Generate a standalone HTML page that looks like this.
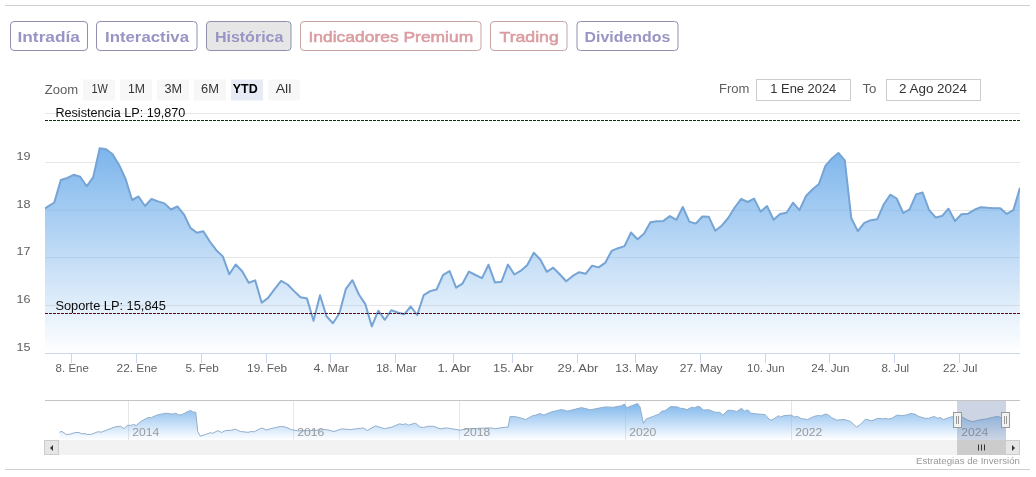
<!DOCTYPE html>
<html><head><meta charset="utf-8"><title>Histórica</title>
<style>
html,body{margin:0;padding:0;background:#fff;}
body{width:1036px;height:477px;overflow:hidden;font-family:"Liberation Sans",sans-serif;}
svg{display:block;font-family:"Liberation Sans",sans-serif;will-change:transform;}
</style></head><body>
<svg width="1036" height="477" viewBox="0 0 1036 477">
<defs>
<linearGradient id="g1" gradientUnits="userSpaceOnUse" x1="0" y1="148" x2="0" y2="353"><stop offset="0" stop-color="#7cb5ec" stop-opacity="1"/><stop offset="1" stop-color="#7cb5ec" stop-opacity="0"/></linearGradient>
<linearGradient id="g2" gradientUnits="userSpaceOnUse" x1="0" y1="403" x2="0" y2="440"><stop offset="0" stop-color="#7cb5ec" stop-opacity="1"/><stop offset="1" stop-color="#7cb5ec" stop-opacity="0"/></linearGradient>
<clipPath id="cp"><rect x="45" y="100" width="975" height="253"/></clipPath>
</defs>
<rect x="0" y="0" width="1036" height="477" fill="#ffffff"/>

<rect x="5" y="5" width="1025" height="1" fill="#cfcfcf"/>
<rect x="5" y="469" width="1025" height="1" fill="#cfcfcf"/>
<rect x="10.5" y="21.5" width="77" height="29" rx="3.5" ry="3.5" fill="#ffffff" stroke="#8f8fb0" stroke-width="1"/>
<text x="17.5" y="41.9" font-size="15" fill="#9895c4" font-weight="bold" text-anchor="start" textLength="62.5" lengthAdjust="spacingAndGlyphs">Intradía</text>
<rect x="96.5" y="21.5" width="100.5" height="29" rx="3.5" ry="3.5" fill="#ffffff" stroke="#8f8fb0" stroke-width="1"/>
<text x="105.0" y="41.9" font-size="15" fill="#9895c4" font-weight="bold" text-anchor="start" textLength="84.0" lengthAdjust="spacingAndGlyphs">Interactiva</text>
<rect x="206.5" y="21.5" width="84.5" height="29" rx="3.5" ry="3.5" fill="#e6e6e6" stroke="#8f8fb0" stroke-width="1"/>
<text x="214.89999999999998" y="41.9" font-size="15" fill="#9895c4" font-weight="bold" text-anchor="start" textLength="68.5" lengthAdjust="spacingAndGlyphs">Histórica</text>
<rect x="300.5" y="21.5" width="180.5" height="29" rx="3.5" ry="3.5" fill="#ffffff" stroke="#c9a3a3" stroke-width="1"/>
<text x="308.5" y="41.9" font-size="15" fill="#da9ca1" font-weight="normal" text-anchor="start" textLength="164.7" lengthAdjust="spacingAndGlyphs" stroke="#da9ca1" stroke-width="0.55">Indicadores Premium</text>
<rect x="490.5" y="21.5" width="76.5" height="29" rx="3.5" ry="3.5" fill="#ffffff" stroke="#c9a3a3" stroke-width="1"/>
<text x="499.5" y="41.9" font-size="15" fill="#da9ca1" font-weight="normal" text-anchor="start" textLength="59.3" lengthAdjust="spacingAndGlyphs" stroke="#da9ca1" stroke-width="0.55">Trading</text>
<rect x="577.0" y="21.5" width="101.0" height="29" rx="3.5" ry="3.5" fill="#ffffff" stroke="#8f8fb0" stroke-width="1"/>
<text x="584.6" y="41.9" font-size="15" fill="#9895c4" font-weight="bold" text-anchor="start" textLength="85.7" lengthAdjust="spacingAndGlyphs">Dividendos</text>
<rect x="45" y="113" width="975" height="1" fill="#e6e6e6"/>
<rect x="45" y="162" width="975" height="1" fill="#e6e6e6"/>
<rect x="45" y="210" width="975" height="1" fill="#e6e6e6"/>
<rect x="45" y="257" width="975" height="1" fill="#e6e6e6"/>
<rect x="45" y="305" width="975" height="1" fill="#e6e6e6"/>
<g clip-path="url(#cp)"><path d="M45.0 208.3 L47.8 206.6 L54.3 202.5 L60.8 180.0 L67.3 178.0 L73.7 174.8 L80.2 176.8 L86.7 186.3 L93.2 177.2 L99.7 148.2 L106.1 149.3 L112.6 154.3 L119.1 165.0 L125.6 179.0 L132.1 200.0 L138.5 196.5 L145.0 206.0 L151.5 199.0 L158.0 201.4 L164.5 203.4 L170.9 209.5 L177.4 206.5 L183.9 214.3 L190.4 227.9 L196.9 232.8 L203.3 231.2 L209.8 241.5 L216.3 250.2 L222.8 256.4 L229.3 274.3 L235.7 264.5 L242.2 271.3 L248.7 282.7 L255.2 280.4 L261.7 302.7 L268.1 297.9 L274.6 289.1 L281.1 280.9 L287.6 284.5 L294.1 291.1 L300.5 297.3 L307.0 298.6 L313.5 320.7 L320.0 295.2 L326.5 316.3 L332.9 323.2 L339.4 313.3 L345.9 288.8 L352.4 280.2 L358.9 294.5 L365.3 304.1 L371.8 326.4 L378.3 310.7 L384.8 319.8 L391.3 310.2 L397.7 312.5 L404.2 314.3 L410.7 306.5 L417.2 315.0 L423.7 295.2 L430.1 291.1 L436.6 289.5 L443.1 274.8 L449.6 271.1 L456.1 287.7 L462.5 283.6 L469.0 271.6 L475.5 275.0 L482.0 278.1 L488.5 264.7 L494.9 282.4 L501.4 281.8 L507.9 264.6 L514.4 274.5 L520.9 270.7 L527.3 265.0 L533.8 252.7 L540.3 259.5 L546.8 271.8 L553.2 267.7 L559.7 274.3 L566.2 281.3 L572.7 275.9 L579.2 272.2 L585.6 273.8 L592.1 265.7 L598.6 267.4 L605.1 262.9 L611.6 250.9 L618.0 248.2 L624.5 246.1 L631.0 232.5 L637.5 239.3 L644.0 233.8 L650.4 222.3 L656.9 221.2 L663.4 220.9 L669.9 216.1 L676.4 219.8 L682.8 207.0 L689.3 221.6 L695.8 223.6 L702.3 216.5 L708.8 216.8 L715.2 230.7 L721.7 225.7 L728.2 218.0 L734.7 207.5 L741.2 198.9 L747.6 202.0 L754.1 198.6 L760.6 211.6 L767.1 206.1 L773.6 219.8 L780.0 213.9 L786.5 212.7 L793.0 202.7 L799.5 210.2 L806.0 196.0 L812.4 189.5 L818.9 184.0 L825.4 165.9 L831.9 158.4 L838.4 153.0 L844.8 160.4 L851.3 218.3 L857.8 231.1 L864.3 222.9 L870.8 220.2 L877.2 219.3 L883.7 204.5 L890.2 194.7 L896.7 198.5 L903.2 213.0 L909.6 209.4 L916.1 194.4 L922.6 192.5 L929.1 210.1 L935.6 217.4 L942.0 216.1 L948.5 208.7 L955.0 221.0 L961.5 214.2 L968.0 213.7 L974.4 209.8 L980.9 207.2 L987.4 207.8 L993.9 208.2 L1000.4 208.2 L1006.8 213.9 L1013.3 210.2 L1019.8 188.4 L1019.8 353 L45 353 Z" fill="url(#g1)"/><path d="M45.0 208.3 L47.8 206.6 L54.3 202.5 L60.8 180.0 L67.3 178.0 L73.7 174.8 L80.2 176.8 L86.7 186.3 L93.2 177.2 L99.7 148.2 L106.1 149.3 L112.6 154.3 L119.1 165.0 L125.6 179.0 L132.1 200.0 L138.5 196.5 L145.0 206.0 L151.5 199.0 L158.0 201.4 L164.5 203.4 L170.9 209.5 L177.4 206.5 L183.9 214.3 L190.4 227.9 L196.9 232.8 L203.3 231.2 L209.8 241.5 L216.3 250.2 L222.8 256.4 L229.3 274.3 L235.7 264.5 L242.2 271.3 L248.7 282.7 L255.2 280.4 L261.7 302.7 L268.1 297.9 L274.6 289.1 L281.1 280.9 L287.6 284.5 L294.1 291.1 L300.5 297.3 L307.0 298.6 L313.5 320.7 L320.0 295.2 L326.5 316.3 L332.9 323.2 L339.4 313.3 L345.9 288.8 L352.4 280.2 L358.9 294.5 L365.3 304.1 L371.8 326.4 L378.3 310.7 L384.8 319.8 L391.3 310.2 L397.7 312.5 L404.2 314.3 L410.7 306.5 L417.2 315.0 L423.7 295.2 L430.1 291.1 L436.6 289.5 L443.1 274.8 L449.6 271.1 L456.1 287.7 L462.5 283.6 L469.0 271.6 L475.5 275.0 L482.0 278.1 L488.5 264.7 L494.9 282.4 L501.4 281.8 L507.9 264.6 L514.4 274.5 L520.9 270.7 L527.3 265.0 L533.8 252.7 L540.3 259.5 L546.8 271.8 L553.2 267.7 L559.7 274.3 L566.2 281.3 L572.7 275.9 L579.2 272.2 L585.6 273.8 L592.1 265.7 L598.6 267.4 L605.1 262.9 L611.6 250.9 L618.0 248.2 L624.5 246.1 L631.0 232.5 L637.5 239.3 L644.0 233.8 L650.4 222.3 L656.9 221.2 L663.4 220.9 L669.9 216.1 L676.4 219.8 L682.8 207.0 L689.3 221.6 L695.8 223.6 L702.3 216.5 L708.8 216.8 L715.2 230.7 L721.7 225.7 L728.2 218.0 L734.7 207.5 L741.2 198.9 L747.6 202.0 L754.1 198.6 L760.6 211.6 L767.1 206.1 L773.6 219.8 L780.0 213.9 L786.5 212.7 L793.0 202.7 L799.5 210.2 L806.0 196.0 L812.4 189.5 L818.9 184.0 L825.4 165.9 L831.9 158.4 L838.4 153.0 L844.8 160.4 L851.3 218.3 L857.8 231.1 L864.3 222.9 L870.8 220.2 L877.2 219.3 L883.7 204.5 L890.2 194.7 L896.7 198.5 L903.2 213.0 L909.6 209.4 L916.1 194.4 L922.6 192.5 L929.1 210.1 L935.6 217.4 L942.0 216.1 L948.5 208.7 L955.0 221.0 L961.5 214.2 L968.0 213.7 L974.4 209.8 L980.9 207.2 L987.4 207.8 L993.9 208.2 L1000.4 208.2 L1006.8 213.9 L1013.3 210.2 L1019.8 188.4" fill="none" stroke="#76a4d5" stroke-width="2" stroke-linejoin="round" stroke-linecap="round"/></g>
<line x1="45" y1="120.5" x2="1020" y2="120.5" stroke="#083408" stroke-width="1" stroke-dasharray="3,1"/>
<line x1="45" y1="313.5" x2="1020" y2="313.5" stroke="#620810" stroke-width="1" stroke-dasharray="3,1"/>
<text x="55.4" y="116.6" font-size="12" fill="#0d0d0d" font-weight="normal" text-anchor="start" textLength="130" lengthAdjust="spacingAndGlyphs">Resistencia LP: 19,870</text>
<text x="55.4" y="309.8" font-size="12" fill="#0d0d0d" font-weight="normal" text-anchor="start" textLength="110.4" lengthAdjust="spacingAndGlyphs">Soporte LP: 15,845</text>
<rect x="45" y="353" width="975" height="1" fill="#ccd6eb"/>
<rect x="71" y="353" width="1" height="10" fill="#ccd6eb"/>
<text x="55.599999999999994" y="371.9" font-size="11" fill="#5e5e5e" font-weight="normal" text-anchor="start" textLength="33.3" lengthAdjust="spacingAndGlyphs">8. Ene</text>
<rect x="136" y="353" width="1" height="10" fill="#ccd6eb"/>
<text x="116.6" y="371.9" font-size="11" fill="#5e5e5e" font-weight="normal" text-anchor="start" textLength="40.8" lengthAdjust="spacingAndGlyphs">22. Ene</text>
<rect x="201" y="353" width="1" height="10" fill="#ccd6eb"/>
<text x="185.60000000000002" y="371.9" font-size="11" fill="#5e5e5e" font-weight="normal" text-anchor="start" textLength="33.3" lengthAdjust="spacingAndGlyphs">5. Feb</text>
<rect x="266" y="353" width="1" height="10" fill="#ccd6eb"/>
<text x="247.10000000000002" y="371.9" font-size="11" fill="#5e5e5e" font-weight="normal" text-anchor="start" textLength="40.0" lengthAdjust="spacingAndGlyphs">19. Feb</text>
<rect x="330" y="353" width="1" height="10" fill="#ccd6eb"/>
<text x="313.6" y="371.9" font-size="11" fill="#5e5e5e" font-weight="normal" text-anchor="start" textLength="35.3" lengthAdjust="spacingAndGlyphs">4. Mar</text>
<rect x="395" y="353" width="1" height="10" fill="#ccd6eb"/>
<text x="375.90000000000003" y="371.9" font-size="11" fill="#5e5e5e" font-weight="normal" text-anchor="start" textLength="40.8" lengthAdjust="spacingAndGlyphs">18. Mar</text>
<rect x="453" y="353" width="1" height="10" fill="#ccd6eb"/>
<text x="437.40000000000003" y="371.9" font-size="11" fill="#5e5e5e" font-weight="normal" text-anchor="start" textLength="33.5" lengthAdjust="spacingAndGlyphs">1. Abr</text>
<rect x="512" y="353" width="1" height="10" fill="#ccd6eb"/>
<text x="493.1" y="371.9" font-size="11" fill="#5e5e5e" font-weight="normal" text-anchor="start" textLength="40.5" lengthAdjust="spacingAndGlyphs">15. Abr</text>
<rect x="577" y="353" width="1" height="10" fill="#ccd6eb"/>
<text x="557.5999999999999" y="371.9" font-size="11" fill="#5e5e5e" font-weight="normal" text-anchor="start" textLength="40.8" lengthAdjust="spacingAndGlyphs">29. Abr</text>
<rect x="635" y="353" width="1" height="10" fill="#ccd6eb"/>
<text x="615.3" y="371.9" font-size="11" fill="#5e5e5e" font-weight="normal" text-anchor="start" textLength="42.8" lengthAdjust="spacingAndGlyphs">13. May</text>
<rect x="700" y="353" width="1" height="10" fill="#ccd6eb"/>
<text x="679.8" y="371.9" font-size="11" fill="#5e5e5e" font-weight="normal" text-anchor="start" textLength="42.8" lengthAdjust="spacingAndGlyphs">27. May</text>
<rect x="765" y="353" width="1" height="10" fill="#ccd6eb"/>
<text x="747.0999999999999" y="371.9" font-size="11" fill="#5e5e5e" font-weight="normal" text-anchor="start" textLength="37.5" lengthAdjust="spacingAndGlyphs">10. Jun</text>
<rect x="829" y="353" width="1" height="10" fill="#ccd6eb"/>
<text x="811.1999999999999" y="371.9" font-size="11" fill="#5e5e5e" font-weight="normal" text-anchor="start" textLength="38.3" lengthAdjust="spacingAndGlyphs">24. Jun</text>
<rect x="894" y="353" width="1" height="10" fill="#ccd6eb"/>
<text x="881.4" y="371.9" font-size="11" fill="#5e5e5e" font-weight="normal" text-anchor="start" textLength="27.8" lengthAdjust="spacingAndGlyphs">8. Jul</text>
<rect x="959" y="353" width="1" height="10" fill="#ccd6eb"/>
<text x="942.9" y="371.9" font-size="11" fill="#5e5e5e" font-weight="normal" text-anchor="start" textLength="34.6" lengthAdjust="spacingAndGlyphs">22. Jul</text>
<text x="16.6" y="159.8" font-size="11" fill="#5e5e5e" font-weight="normal" text-anchor="start" textLength="14" lengthAdjust="spacingAndGlyphs">19</text>
<text x="16.6" y="207.6" font-size="11" fill="#5e5e5e" font-weight="normal" text-anchor="start" textLength="14" lengthAdjust="spacingAndGlyphs">18</text>
<text x="16.6" y="255.3" font-size="11" fill="#5e5e5e" font-weight="normal" text-anchor="start" textLength="14" lengthAdjust="spacingAndGlyphs">17</text>
<text x="16.6" y="303.1" font-size="11" fill="#5e5e5e" font-weight="normal" text-anchor="start" textLength="14" lengthAdjust="spacingAndGlyphs">16</text>
<text x="16.6" y="350.8" font-size="11" fill="#5e5e5e" font-weight="normal" text-anchor="start" textLength="14" lengthAdjust="spacingAndGlyphs">15</text>
<text x="44.8" y="93.6" font-size="12" fill="#5e5e5e" font-weight="normal" text-anchor="start" textLength="33.4" lengthAdjust="spacingAndGlyphs">Zoom</text>
<rect x="83" y="79.5" width="32" height="21" fill="#f7f7f7"/>
<text x="91.4" y="93" font-size="12" textLength="16.4" lengthAdjust="spacingAndGlyphs" fill="#333333" font-weight="normal">1W</text>
<rect x="120" y="79.5" width="32" height="21" fill="#f7f7f7"/>
<text x="128.0" y="93" font-size="12" textLength="17.0" lengthAdjust="spacingAndGlyphs" fill="#333333" font-weight="normal">1M</text>
<rect x="157" y="79.5" width="32" height="21" fill="#f7f7f7"/>
<text x="164.5" y="93" font-size="12" textLength="17.6" lengthAdjust="spacingAndGlyphs" fill="#333333" font-weight="normal">3M</text>
<rect x="194" y="79.5" width="32" height="21" fill="#f7f7f7"/>
<text x="201.0" y="93" font-size="12" textLength="17.9" lengthAdjust="spacingAndGlyphs" fill="#333333" font-weight="normal">6M</text>
<rect x="231" y="79.5" width="32" height="21" fill="#e6ebf5"/>
<text x="232.8" y="93" font-size="12" textLength="24.9" lengthAdjust="spacingAndGlyphs" fill="#000000" font-weight="bold">YTD</text>
<rect x="268" y="79.5" width="32" height="21" fill="#f7f7f7"/>
<text x="275.7" y="93" font-size="12" textLength="15.7" lengthAdjust="spacingAndGlyphs" fill="#333333" font-weight="normal">All</text>
<text x="719" y="92.6" font-size="12" fill="#5e5e5e" font-weight="normal" text-anchor="start" textLength="30.4" lengthAdjust="spacingAndGlyphs">From</text>
<rect x="756.5" y="79.5" width="94" height="21" fill="#ffffff" stroke="#cccccc" stroke-width="1"/>
<text x="770.3" y="92.6" font-size="12" fill="#333333" font-weight="normal" text-anchor="start" textLength="66" lengthAdjust="spacingAndGlyphs">1 Ene 2024</text>
<text x="862.5" y="92.6" font-size="12" fill="#5e5e5e" font-weight="normal" text-anchor="start" textLength="14" lengthAdjust="spacingAndGlyphs">To</text>
<rect x="886.5" y="79.5" width="94" height="21" fill="#ffffff" stroke="#cccccc" stroke-width="1"/>
<text x="899" y="92.6" font-size="12" fill="#333333" font-weight="normal" text-anchor="start" textLength="68" lengthAdjust="spacingAndGlyphs">2 Ago 2024</text>
<rect x="128" y="400" width="1" height="40" fill="#e6e6e6"/>
<rect x="293" y="400" width="1" height="40" fill="#e6e6e6"/>
<rect x="459" y="400" width="1" height="40" fill="#e6e6e6"/>
<rect x="625" y="400" width="1" height="40" fill="#e6e6e6"/>
<rect x="791" y="400" width="1" height="40" fill="#e6e6e6"/>
<rect x="957" y="400" width="1" height="40" fill="#e6e6e6"/>
<path d="M59.5 432.1 L62.0 431.5 L66.4 434.6 L70.8 434.0 L75.2 432.5 L79.0 432.5 L82.1 434.0 L84.0 433.4 L87.8 434.6 L91.5 434.2 L97.8 431.8 L101.6 432.1 L107.9 429.6 L115.4 426.8 L120.5 426.2 L124.2 428.7 L127.4 425.2 L130.5 425.4 L133.7 424.5 L136.2 425.5 L141.8 420.8 L148.1 417.6 L151.3 417.6 L156.9 415.1 L165.7 413.2 L172.6 414.1 L175.7 413.2 L178.9 415.1 L182.0 414.5 L187.0 412.0 L190.6 410.3 L192.9 412.0 L195.8 412.3 L197.7 431.5 L200.2 436.2 L205.3 434.6 L210.3 432.7 L212.8 433.3 L217.8 430.6 L221.6 432.5 L225.4 430.6 L231.7 430.2 L235.4 429.2 L240.5 431.5 L248.0 432.3 L251.8 431.5 L254.3 431.8 L260.6 428.3 L263.1 428.3 L266.2 430.0 L270.6 428.7 L280.7 426.4 L285.7 427.1 L291.3 429.6 L297.6 430.8 L310.0 430.6 L326.5 429.6 L334.0 431.5 L341.6 428.9 L350.4 429.6 L360.4 428.3 L363.6 428.1 L367.3 430.5 L375.5 425.8 L384.3 428.7 L391.9 427.1 L399.4 423.9 L403.2 424.5 L405.7 423.7 L408.2 425.2 L413.2 423.7 L415.7 423.3 L420.1 427.1 L423.8 427.4 L428.9 426.2 L433.9 426.4 L440.2 428.9 L446.5 427.9 L452.7 428.9 L460.3 430.2 L465.3 428.9 L490.5 427.9 L495.5 428.7 L503.0 427.4 L508.1 427.1 L510.0 416.6 L514.3 416.4 L520.6 417.9 L525.7 419.5 L532.6 415.7 L535.7 415.1 L540.0 413.6 L543.8 415.1 L551.3 412.0 L561.4 409.5 L567.7 411.1 L581.5 407.6 L590.3 409.8 L605.4 406.9 L613.0 407.3 L621.7 405.7 L624.5 404.1 L626.8 407.8 L631.8 405.7 L637.5 403.5 L640.0 406.9 L643.4 423.3 L646.3 418.9 L653.2 416.4 L659.5 413.9 L661.4 411.3 L665.0 410.7 L670.7 406.6 L677.6 406.9 L680.1 408.2 L683.9 408.6 L687.0 409.8 L691.4 407.3 L694.6 407.8 L697.7 406.3 L700.2 406.9 L703.4 410.1 L709.0 409.8 L715.3 412.3 L719.7 412.3 L722.9 415.1 L727.9 410.3 L731.7 410.3 L736.7 411.6 L741.7 408.2 L744.2 411.3 L746.7 410.1 L748.6 410.3 L750.5 413.2 L758.1 414.1 L765.0 414.5 L769.4 419.5 L771.9 420.1 L778.8 415.7 L780.7 417.0 L783.8 415.7 L791.3 415.1 L794.4 417.0 L797.6 416.4 L801.3 418.6 L807.6 419.5 L813.9 416.4 L818.9 415.4 L820.8 416.1 L825.2 414.1 L828.4 414.9 L831.5 417.6 L836.5 420.1 L844.1 419.5 L850.4 421.4 L856.7 427.1 L860.4 424.5 L865.5 419.1 L871.7 420.8 L878.0 418.3 L883.1 418.9 L885.6 418.3 L888.1 419.1 L891.9 418.3 L896.9 415.1 L901.9 415.7 L905.7 415.1 L911.0 413.6 L914.8 414.1 L918.6 416.4 L924.9 418.3 L928.6 418.3 L934.3 416.4 L937.4 418.3 L939.9 417.6 L943.7 419.5 L948.7 417.6 L953.1 416.6 L962.0 417.0 L967.6 420.1 L972.6 421.7 L978.9 420.1 L986.5 418.9 L992.7 417.4 L997.8 416.4 L1000.9 417.6 L1005.8 416.9 L1005.8 440 L59.5 440 Z" fill="url(#g2)"/><path d="M59.5 432.1 L62.0 431.5 L66.4 434.6 L70.8 434.0 L75.2 432.5 L79.0 432.5 L82.1 434.0 L84.0 433.4 L87.8 434.6 L91.5 434.2 L97.8 431.8 L101.6 432.1 L107.9 429.6 L115.4 426.8 L120.5 426.2 L124.2 428.7 L127.4 425.2 L130.5 425.4 L133.7 424.5 L136.2 425.5 L141.8 420.8 L148.1 417.6 L151.3 417.6 L156.9 415.1 L165.7 413.2 L172.6 414.1 L175.7 413.2 L178.9 415.1 L182.0 414.5 L187.0 412.0 L190.6 410.3 L192.9 412.0 L195.8 412.3 L197.7 431.5 L200.2 436.2 L205.3 434.6 L210.3 432.7 L212.8 433.3 L217.8 430.6 L221.6 432.5 L225.4 430.6 L231.7 430.2 L235.4 429.2 L240.5 431.5 L248.0 432.3 L251.8 431.5 L254.3 431.8 L260.6 428.3 L263.1 428.3 L266.2 430.0 L270.6 428.7 L280.7 426.4 L285.7 427.1 L291.3 429.6 L297.6 430.8 L310.0 430.6 L326.5 429.6 L334.0 431.5 L341.6 428.9 L350.4 429.6 L360.4 428.3 L363.6 428.1 L367.3 430.5 L375.5 425.8 L384.3 428.7 L391.9 427.1 L399.4 423.9 L403.2 424.5 L405.7 423.7 L408.2 425.2 L413.2 423.7 L415.7 423.3 L420.1 427.1 L423.8 427.4 L428.9 426.2 L433.9 426.4 L440.2 428.9 L446.5 427.9 L452.7 428.9 L460.3 430.2 L465.3 428.9 L490.5 427.9 L495.5 428.7 L503.0 427.4 L508.1 427.1 L510.0 416.6 L514.3 416.4 L520.6 417.9 L525.7 419.5 L532.6 415.7 L535.7 415.1 L540.0 413.6 L543.8 415.1 L551.3 412.0 L561.4 409.5 L567.7 411.1 L581.5 407.6 L590.3 409.8 L605.4 406.9 L613.0 407.3 L621.7 405.7 L624.5 404.1 L626.8 407.8 L631.8 405.7 L637.5 403.5 L640.0 406.9 L643.4 423.3 L646.3 418.9 L653.2 416.4 L659.5 413.9 L661.4 411.3 L665.0 410.7 L670.7 406.6 L677.6 406.9 L680.1 408.2 L683.9 408.6 L687.0 409.8 L691.4 407.3 L694.6 407.8 L697.7 406.3 L700.2 406.9 L703.4 410.1 L709.0 409.8 L715.3 412.3 L719.7 412.3 L722.9 415.1 L727.9 410.3 L731.7 410.3 L736.7 411.6 L741.7 408.2 L744.2 411.3 L746.7 410.1 L748.6 410.3 L750.5 413.2 L758.1 414.1 L765.0 414.5 L769.4 419.5 L771.9 420.1 L778.8 415.7 L780.7 417.0 L783.8 415.7 L791.3 415.1 L794.4 417.0 L797.6 416.4 L801.3 418.6 L807.6 419.5 L813.9 416.4 L818.9 415.4 L820.8 416.1 L825.2 414.1 L828.4 414.9 L831.5 417.6 L836.5 420.1 L844.1 419.5 L850.4 421.4 L856.7 427.1 L860.4 424.5 L865.5 419.1 L871.7 420.8 L878.0 418.3 L883.1 418.9 L885.6 418.3 L888.1 419.1 L891.9 418.3 L896.9 415.1 L901.9 415.7 L905.7 415.1 L911.0 413.6 L914.8 414.1 L918.6 416.4 L924.9 418.3 L928.6 418.3 L934.3 416.4 L937.4 418.3 L939.9 417.6 L943.7 419.5 L948.7 417.6 L953.1 416.6 L962.0 417.0 L967.6 420.1 L972.6 421.7 L978.9 420.1 L986.5 418.9 L992.7 417.4 L997.8 416.4 L1000.9 417.6 L1005.8 416.9" fill="none" stroke="#92afcd" stroke-width="1" stroke-linejoin="round"/>
<text x="132.2" y="435.8" font-size="10.5" fill="#999999" font-weight="normal" text-anchor="start" textLength="27" lengthAdjust="spacingAndGlyphs">2014</text>
<text x="297.2" y="435.8" font-size="10.5" fill="#999999" font-weight="normal" text-anchor="start" textLength="27" lengthAdjust="spacingAndGlyphs">2016</text>
<text x="463.2" y="435.8" font-size="10.5" fill="#999999" font-weight="normal" text-anchor="start" textLength="27" lengthAdjust="spacingAndGlyphs">2018</text>
<text x="629.2" y="435.8" font-size="10.5" fill="#999999" font-weight="normal" text-anchor="start" textLength="27" lengthAdjust="spacingAndGlyphs">2020</text>
<text x="795.2" y="435.8" font-size="10.5" fill="#999999" font-weight="normal" text-anchor="start" textLength="27" lengthAdjust="spacingAndGlyphs">2022</text>
<text x="961.2" y="435.8" font-size="10.5" fill="#999999" font-weight="normal" text-anchor="start" textLength="27" lengthAdjust="spacingAndGlyphs">2024</text>
<rect x="957.5" y="400" width="48.5" height="40" fill="rgba(90,115,165,0.3)"/>
<path d="M45 400.5 L1020 400.5" stroke="#c4c4c4" stroke-width="1" fill="none"/>
<rect x="953.5" y="412.5" width="8" height="15" fill="#f2f2f2" stroke="#999999" stroke-width="1"/>
<path d="M956.5 416 V424 M958.5 416 V424" stroke="#999999" stroke-width="1" fill="none"/>
<rect x="1001.5" y="412.5" width="8" height="15" fill="#f2f2f2" stroke="#999999" stroke-width="1"/>
<path d="M1004.5 416 V424 M1006.5 416 V424" stroke="#999999" stroke-width="1" fill="none"/>
<rect x="45" y="440" width="975" height="15" fill="#f2f2f2"/>
<rect x="44.5" y="440.5" width="14" height="14" fill="#e6e6e6" stroke="#cccccc" stroke-width="1"/>
<path d="M53 445 L53 451 L50 448 Z" fill="#333333"/>
<rect x="957.5" y="440.5" width="48.5" height="14" fill="#cccccc" stroke="#cccccc" stroke-width="1"/>
<rect x="1005.5" y="440.5" width="14" height="14" fill="#e6e6e6" stroke="#cccccc" stroke-width="1"/>
<path d="M1012 445 L1012 451 L1015 448 Z" fill="#333333"/>
<path d="M978.5 444.5 V450.5 M981.5 444.5 V450.5 M984.5 444.5 V450.5" stroke="#333333" stroke-width="1" fill="none"/>
<text x="916" y="463.8" font-size="9" fill="#999999" font-weight="normal" text-anchor="start" textLength="104" lengthAdjust="spacingAndGlyphs">Estrategias de Inversión</text>
</svg></body></html>
